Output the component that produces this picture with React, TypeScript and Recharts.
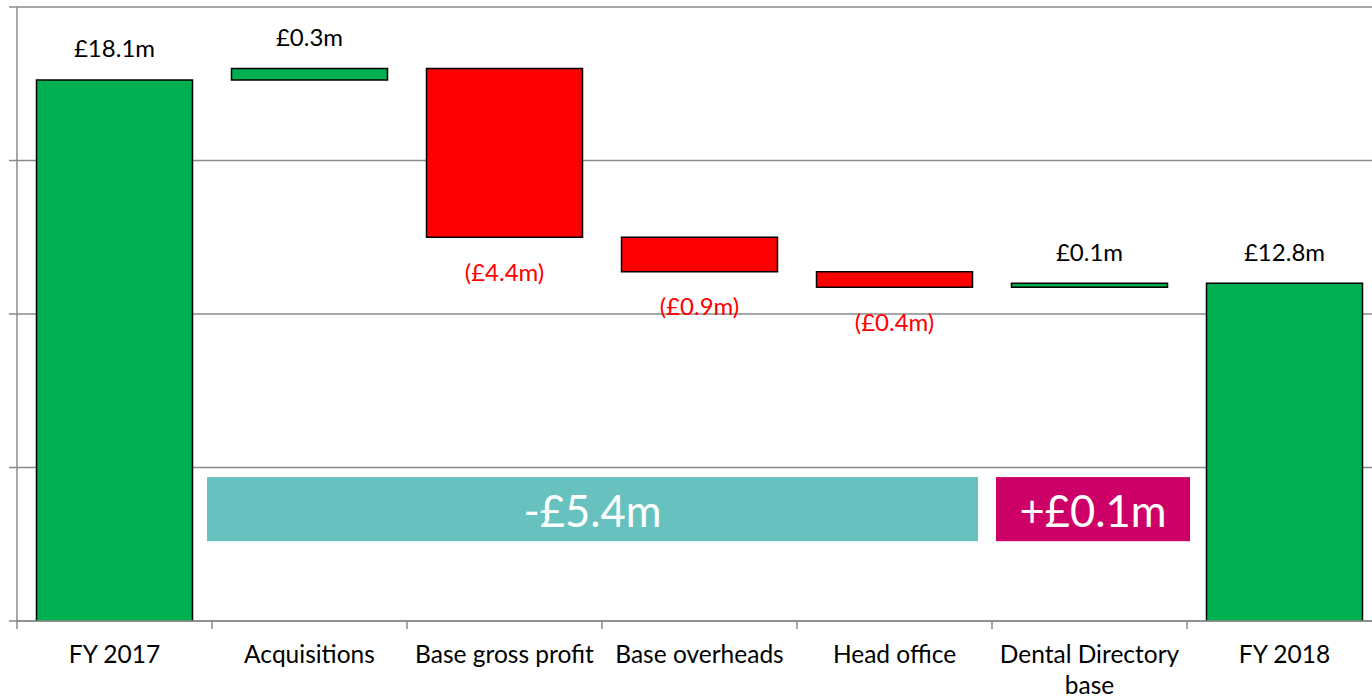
import React from "react";
import {
  BarChart,
  Bar,
  XAxis,
  YAxis,
  CartesianGrid,
  Cell,
  LabelList,
  ReferenceArea,
} from "recharts";

const categories = [
  "FY 2017",
  "Acquisitions",
  "Base gross profit",
  "Base overheads",
  "Head office",
  "Dental Directory base",
  "FY 2018",
];
const amounts = [18.1, 0.3, -4.4, -0.9, -0.4, 0.1, 12.8];
const isTotal = [true, false, false, false, false, false, true];
const valueLabels = ["£18.1m", "£0.3m", "(£4.4m)", "(£0.9m)", "(£0.4m)", "£0.1m", "£12.8m"];
const yTicks = [4, 8, 12, 16, 20];

const CHART_W = 1382;
const CHART_H = 700;
const Y_AXIS_W = 17;
const BAND_HALF = (CHART_W - Y_AXIS_W) / categories.length / 2;
const FONT = "Lato, 'Open Sans', sans-serif";
const TICK_FONT_SIZE = 24.5;

const GREEN = "#00B050";
const RED = "#FF0000";
const GRID = "#8a8a8a";
const TEAL = "#67C2BF";
const MAGENTA = "#CC0066";

let running = 0;
const data = categories.map((name, i) => {
  const amt = amounts[i];
  let low = 0;
  let high = amt;
  if (isTotal[i]) {
    running = amt;
  } else {
    const next = +(running + amt).toFixed(1);
    low = Math.min(running, next);
    high = Math.max(running, next);
    running = next;
  }
  return { name, range: [low, high] };
});

// greedy word wrap, measured with a canvas
let measureCtx: CanvasRenderingContext2D | null = null;
function wrapText(text: string, maxWidth: number): string[] {
  if (!measureCtx) {
    measureCtx = document.createElement("canvas").getContext("2d");
  }
  if (!measureCtx) return [text];
  measureCtx.font = `${TICK_FONT_SIZE}px Lato`;
  const lines: string[] = [];
  let line = "";
  for (const word of text.split(" ")) {
    const test = line ? line + " " + word : word;
    if (line && measureCtx.measureText(test).width > maxWidth) {
      lines.push(line);
      line = word;
    } else {
      line = test;
    }
  }
  if (line) lines.push(line);
  return lines;
}

const ValueLabel = (props: any) => {
  const { x, y, width, height, index } = props;
  const top = Math.min(y, y + height);
  const bottom = Math.max(y, y + height);
  const up = amounts[index] >= 0;
  return (
    <text
      x={x + width / 2}
      y={up ? top - 32 : bottom + 34}
      textAnchor="middle"
      dominantBaseline="central"
      fontSize={24}
      fill={up ? "#000" : RED}
    >
      {valueLabels[index]}
    </text>
  );
};

const CategoryTick = (props: any) => {
  const { x, y, payload } = props;
  const half = payload.offset || BAND_HALF;
  const lines = wrapText(String(payload.value), 195);
  return (
    <g>
      <line x1={x - half} x2={x - half} y1={y} y2={y + 8} stroke={GRID} strokeWidth={1.5} />
      <text x={x} y={y + 42} textAnchor="middle" fontSize={TICK_FONT_SIZE} fill="#000">
        {lines.map((l, i) => (
          <tspan key={i} x={x} dy={i === 0 ? 0 : 31}>
            {l}
          </tspan>
        ))}
      </text>
    </g>
  );
};

const Banner = (props: any) => {
  const { x, y, width, height, color, text, padL, padR } = props;
  const bx = x + padL;
  const bw = width - padL - padR;
  return (
    <g>
      <rect x={bx} y={y} width={bw} height={height} fill={color} />
      <text
        x={bx + bw / 2}
        y={y + height / 2 + 1}
        textAnchor="middle"
        dominantBaseline="central"
        fill="#fff"
        fontSize={43.5}
      >
        {text}
      </text>
    </g>
  );
};

export default function App() {
  return (
    <div
      style={{
        position: "absolute",
        left: 0,
        top: 0,
        width: 1372,
        height: CHART_H,
        overflow: "hidden",
        background: "#fff",
        fontFamily: FONT,
      }}
    >
      <BarChart
        width={CHART_W}
        height={CHART_H}
        data={data}
        margin={{ top: 7, right: 0, bottom: 0, left: 0 }}
        barCategoryGap="10%"
      >
        <CartesianGrid vertical={false} stroke={GRID} strokeWidth={1.5} />
        <XAxis
          dataKey="name"
          height={79}
          axisLine={{ stroke: GRID, strokeWidth: 1.5 }}
          tickLine={false}
          tickSize={0}
          tickMargin={0}
          interval={0}
          tick={<CategoryTick />}
        />
        <YAxis
          width={Y_AXIS_W}
          domain={[4, 20]}
          ticks={yTicks}
          interval={0}
          allowDataOverflow
          tickFormatter={() => ""}
          tickSize={8}
          axisLine={{ stroke: GRID, strokeWidth: 1.5 }}
          tickLine={{ stroke: GRID, strokeWidth: 1.5 }}
        />
        <Bar dataKey="range" isAnimationActive={false} stroke="#000" strokeWidth={1.5}>
          {data.map((d, i) => (
            <Cell key={d.name} fill={amounts[i] >= 0 ? GREEN : RED} />
          ))}
          <LabelList dataKey="range" content={<ValueLabel />} />
        </Bar>
        <ReferenceArea
          x1="Acquisitions"
          x2="Head office"
          y1={6.08}
          y2={7.75}
          shape={(p: any) => <Banner {...p} color={TEAL} text="-£5.4m" padL={-5} padR={14} />}
        />
        <ReferenceArea
          x1="Dental Directory base"
          x2="Dental Directory base"
          y1={6.08}
          y2={7.75}
          shape={(p: any) => <Banner {...p} color={MAGENTA} text="+£0.1m" padL={4} padR={-3} />}
        />
      </BarChart>
    </div>
  );
}
